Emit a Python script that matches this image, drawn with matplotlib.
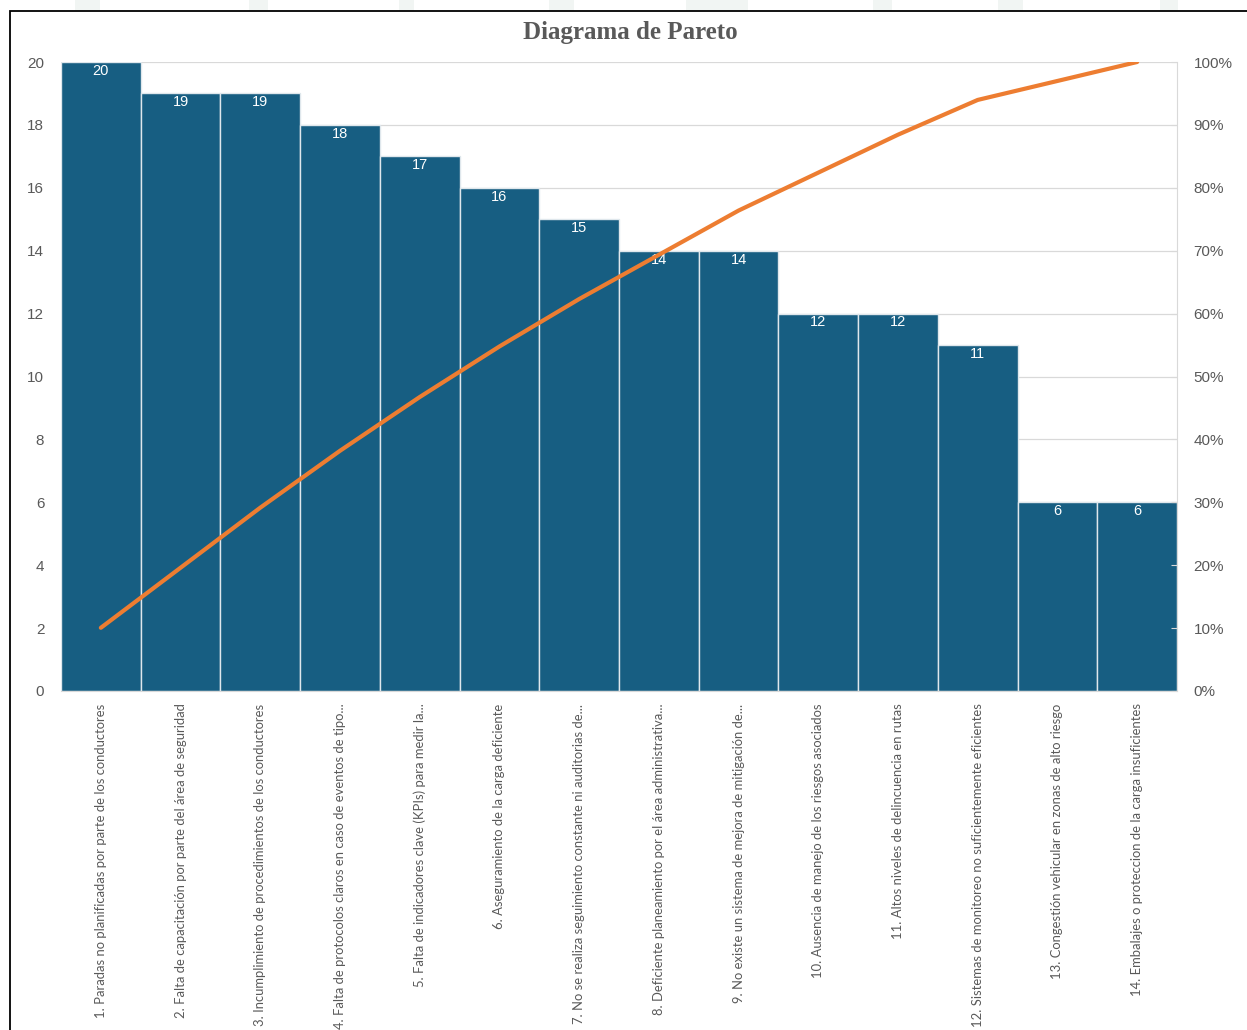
import matplotlib
matplotlib.use("Agg")
import matplotlib.pyplot as plt
from matplotlib.patches import Rectangle
from matplotlib.ticker import FuncFormatter, MultipleLocator
import numpy as np

# --- data -------------------------------------------------------------
causes = [
    "1. Paradas no planificadas por parte de los conductores",
    "2. Falta de capacitación por parte del área de seguridad",
    "3. Incumplimiento de procedimientos de los conductores",
    "4. Falta de protocolos claros en caso de eventos de tipo...",
    "5. Falta de indicadores clave (KPIs) para medir la...",
    "6. Aseguramiento de la carga deficiente",
    "7. No se realiza seguimiento constante ni auditorias de...",
    "8. Deficiente planeamiento por el área administrativa...",
    "9. No existe un sistema de mejora de mitigación de...",
    "10. Ausencia de manejo de los riesgos asociados",
    "11. Altos niveles de delincuencia en rutas",
    "12. Sistemas de monitoreo no suficientemente eficientes",
    "13. Congestión vehicular en zonas de alto riesgo",
    "14. Embalajes o proteccion de la carga insuficientes",
]
frequency = [20, 19, 19, 18, 17, 16, 15, 14, 14, 12, 12, 11, 6, 6]
title = "Diagrama de Pareto"

# cumulative percentage for the Pareto line
cum_pct = np.cumsum(frequency) / np.sum(frequency) * 100

# --- style ------------------------------------------------------------
BAR = "#175e82"
LINE = "#ed7d31"
GRID = "#d9d9d9"
TXT = "#595959"

fig = plt.figure(figsize=(12.47, 10.30), dpi=100)
fig.patch.set_facecolor("white")

# faint decorative strokes above the chart frame
for x0, w in [(0.06, 0.02), (0.20, 0.015), (0.32, 0.012), (0.44, 0.02),
              (0.55, 0.05), (0.70, 0.015), (0.80, 0.02), (0.93, 0.015)]:
    fig.patches.append(Rectangle((x0, 0.989), w, 0.011, transform=fig.transFigure,
                                 facecolor="#f1f5f3", edgecolor="none", zorder=-2))

# chart frame
fig.patches.append(Rectangle((10 / 1247, -0.01), 1.2, (1030 - 11) / 1030 + 0.01,
                             transform=fig.transFigure, facecolor="white",
                             edgecolor="black", lw=1.3, zorder=-1))

ax = fig.add_axes([61 / 1247, 339 / 1030, (1177 - 61) / 1247, (691 - 62) / 1030])
ax.set_facecolor("none")
x = np.arange(len(causes))

bars = ax.bar(x, frequency, width=1.0, color=BAR, edgecolor="#dfe7ec",
              linewidth=1.0, zorder=2)
for xi, v in zip(x, frequency):
    ax.text(xi, v - 0.28, str(v), ha="center", va="center", color="white",
            fontsize=10.5, family="Liberation Sans", zorder=3)

ax.set_xlim(-0.5, len(causes) - 0.5)
ax.set_ylim(0, 20)
ax.yaxis.set_major_locator(MultipleLocator(2))
ax.grid(axis="y", color=GRID, lw=0.9, zorder=0)
ax.set_axisbelow(True)
for s in ["top", "left", "right"]:
    ax.spines[s].set_visible(False)
ax.spines["bottom"].set_color(GRID)
ax.tick_params(axis="y", length=0, labelsize=11, labelcolor=TXT, pad=12)
for lab in ax.get_yticklabels():
    lab.set_family("Liberation Sans")
ax.set_xticks(x)
ax.set_xticklabels(causes, rotation=90, fontsize=9.4, color=TXT,
                   family=["Lato", "DejaVu Sans"])
ax.tick_params(axis="x", length=0, pad=9)

# secondary axis for the cumulative percentage
ax2 = ax.twinx()
ax2.set_ylim(0, 100)
ax2.yaxis.set_major_locator(MultipleLocator(10))
ax2.yaxis.set_major_formatter(FuncFormatter(lambda v, p: f"{v:.0f}%"))
ax2.plot(x, cum_pct, color=LINE, lw=3, solid_capstyle="round", zorder=5)
for s in ["top", "left", "bottom"]:
    ax2.spines[s].set_visible(False)
ax2.spines["right"].set_color(GRID)
ax2.tick_params(axis="y", length=4, direction="in", color=GRID,
                labelsize=11, labelcolor=TXT, pad=12)
for lab in ax2.get_yticklabels():
    lab.set_family("Liberation Sans")

fig.text(630 / 1247, 1 - 33 / 1030, title, ha="center", va="center",
         fontsize=18, fontweight="bold", color=TXT, family="Liberation Serif")

fig.savefig("out.png", dpi=100, facecolor="white")
